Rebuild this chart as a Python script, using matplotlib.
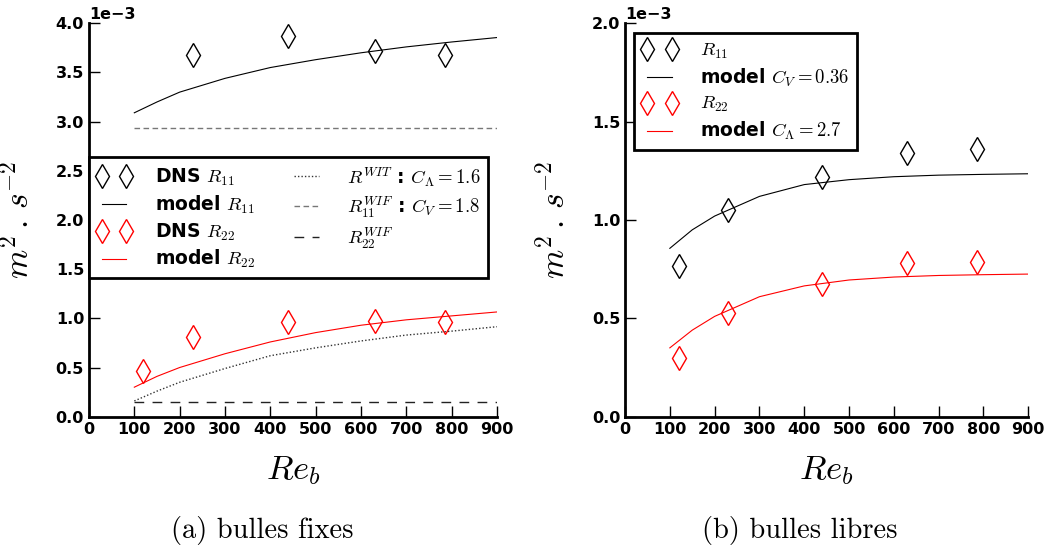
import matplotlib
matplotlib.use("Agg")
import matplotlib.pyplot as plt

plt.rcParams['mathtext.fontset'] = 'cm'
plt.rcParams['font.family'] = ['DejaVu Sans']

# ---------------- data (values x 1e-3) ----------------
re_dns = [120, 230, 440, 630, 785]
re_model = [100, 150, 200, 300, 400, 500, 600, 700, 800, 900]

# (a) bulles fixes
a_dns_r11 = [3.68, 3.87, 3.72, 3.68]
a_dns_r11_re = [230, 440, 630, 785]
a_dns_r22 = [0.465, 0.81, 0.966, 0.973, 0.966]
a_model_r11 = [3.09, 3.20, 3.30, 3.44, 3.55, 3.63, 3.70, 3.76, 3.81, 3.855]
a_model_r22 = [0.30, 0.41, 0.50, 0.64, 0.76, 0.855, 0.93, 0.985, 1.025, 1.065]
a_wit = [0.16, 0.26, 0.35, 0.49, 0.62, 0.70, 0.77, 0.83, 0.87, 0.915]
a_wif11 = [2.94] * len(re_model)
a_wif22 = [0.15] * len(re_model)

# (b) bulles libres
b_dns_r11 = [0.768, 1.05, 1.22, 1.34, 1.36]
b_dns_r22 = [0.297, 0.526, 0.675, 0.78, 0.788]
b_model_r11 = [0.856, 0.95, 1.02, 1.12, 1.18, 1.205, 1.22, 1.228, 1.232, 1.235]
b_model_r22 = [0.35, 0.44, 0.51, 0.61, 0.665, 0.695, 0.71, 0.718, 0.722, 0.725]

xticks = [0, 100, 200, 300, 400, 500, 600, 700, 800, 900]
a_yticks = [0.0, 0.5, 1.0, 1.5, 2.0, 2.5, 3.0, 3.5, 4.0]
b_yticks = [0.0, 0.5, 1.0, 1.5, 2.0]

scale = 1e-3
def sc(v):
    return [x * scale for x in v]

fig = plt.figure(figsize=(10.48, 5.48), dpi=100)
axa = fig.add_axes([0.0849, 0.2396, 0.3893, 0.7179])
axb = fig.add_axes([0.5964, 0.2396, 0.3848, 0.7179])

mk = dict(marker='d', markersize=12, markerfacecolor='none', linestyle='none', markeredgewidth=1.0)

def style(ax, yticks, ymax):
    ax.set_xlim(0, 900)
    ax.set_ylim(0, ymax)
    ax.set_xticks(xticks)
    ax.set_yticks(sc(yticks))
    for s in ['top', 'right']:
        ax.spines[s].set_visible(False)
    for s in ['left', 'bottom']:
        ax.spines[s].set_linewidth(2)
    ax.tick_params(direction='in', length=8, width=1, top=False, right=False,
                   labelsize=11.5)
    for lab in ax.get_xticklabels() + ax.get_yticklabels():
        lab.set_fontweight('bold')
    ax.ticklabel_format(axis='y', style='sci', scilimits=(0, 0))
    ax.yaxis.get_offset_text().set_fontweight('bold')
    ax.yaxis.get_offset_text().set_fontsize(11.5)
    ax.set_xlabel(r'$Re_b$', fontsize=25, labelpad=12)
    ax.set_ylabel(r'$m^2\,.\,s^{-2}$', fontsize=24, labelpad=14)

# ---- panel (a)
h1, = axa.plot(a_dns_r11_re, sc(a_dns_r11), color='black', **mk)
h2, = axa.plot(re_model, sc(a_model_r11), color='black', lw=0.8)
h3, = axa.plot(re_dns, sc(a_dns_r22), color='red', **mk)
h4, = axa.plot(re_model, sc(a_model_r22), color='red', lw=0.8)
h5, = axa.plot(re_model, sc(a_wit), color='#333333', lw=1.0, linestyle=(0, (1, 1.5)))
h6, = axa.plot(re_model, sc(a_wif11), color='#777777', lw=1.0, linestyle=(0, (4, 2.5)))
h7, = axa.plot(re_model, sc(a_wif22), color='#222222', lw=1.0, linestyle=(0, (7, 6)))
style(axa, a_yticks, 4.0e-3)

leg = axa.legend([h1, h2, h3, h4, h5, h6, h7],
                 [r'DNS $R_{11}$', r'model $R_{11}$', r'DNS $R_{22}$', r'model $R_{22}$',
                  r'$R^{WIT}$ : $C_\Lambda = 1.6$', r'$R^{WIF}_{11}$ : $C_V = 1.8$',
                  r'$R^{WIF}_{22}$'],
                 ncol=2, numpoints=2, loc='upper left', bbox_to_anchor=(0.0, 0.66),
                 borderaxespad=0, prop={'weight': 'bold', 'size': 13.5},
                 fancybox=False, edgecolor='black', framealpha=1,
                 handlelength=1.9, columnspacing=1.8, labelspacing=0.3,
                 borderpad=0.4, handletextpad=1.2)
leg.get_frame().set_linewidth(2)

# ---- panel (b)
g1, = axb.plot(re_dns, sc(b_dns_r11), color='black', **mk)
g2, = axb.plot(re_model, sc(b_model_r11), color='black', lw=0.8)
g3, = axb.plot(re_dns, sc(b_dns_r22), color='red', **mk)
g4, = axb.plot(re_model, sc(b_model_r22), color='red', lw=0.8)
style(axb, b_yticks, 2.0e-3)
leg2 = axb.legend([g1, g2, g3, g4],
                  [r'$R_{11}$', r'model $C_V = 0.36$', r'$R_{22}$', r'model $C_\Lambda = 2.7$'],
                  numpoints=2, loc='upper left', bbox_to_anchor=(0.023, 0.975),
                  borderaxespad=0, prop={'weight': 'bold', 'size': 13.5},
                  fancybox=False, edgecolor='black', framealpha=1,
                  handlelength=1.9, labelspacing=0.3, borderpad=0.4, handletextpad=1.2)
leg2.get_frame().set_linewidth(2)

fig.text(0.25, 0.032, '(a) bulles fixes', ha='center', va='center', fontsize=20.5, family='cmr10')
fig.text(0.763, 0.032, '(b) bulles libres', ha='center', va='center', fontsize=20.5, family='cmr10')

fig.savefig('out.png', dpi=100)
